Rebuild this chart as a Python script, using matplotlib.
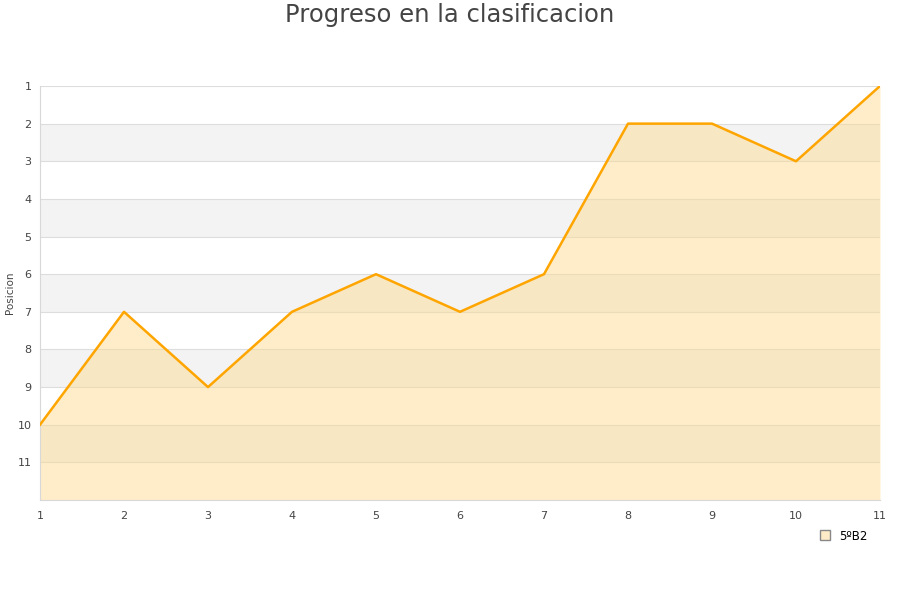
import matplotlib
matplotlib.use("Agg")
import matplotlib.pyplot as plt
from matplotlib.lines import Line2D

jornadas = [1, 2, 3, 4, 5, 6, 7, 8, 9, 10, 11]
posiciones = [10, 7, 9, 7, 6, 7, 6, 2, 2, 3, 1]
equipo = "5ºB2"
titulo = "Progreso en la clasificacion"
eje_y = "Posicion"

fig = plt.figure(figsize=(9, 6), dpi=100)
ax = fig.add_axes([40 / 900, 1 - 500 / 600, 840 / 900, 414 / 600])

# franjas alternas de fondo
for y0 in range(2, 12, 2):
    ax.axhspan(y0, y0 + 1, color="#f3f3f3", zorder=0, lw=0)
for y in range(1, 13):
    ax.axhline(y, color="#dddddd", lw=0.8, zorder=1)

ax.fill_between(jornadas, posiciones, 12, color="#ffd98a", alpha=0.45, lw=0, zorder=2)
ax.plot(jornadas, posiciones, color="#ffa500", lw=1.8, zorder=3)

ax.set_xlim(1, 11)
ax.set_ylim(12, 1)
ax.set_yticks(range(1, 12))
ax.set_xticks(jornadas)
ax.tick_params(length=0, labelsize=8, colors="#444444", pad=8)
ax.tick_params(axis="y", pad=6)
for s in ["top", "right"]:
    ax.spines[s].set_visible(False)
for s in ["left", "bottom"]:
    ax.spines[s].set_color("#d8d8d8")

fig.text(10 / 900, 1 - 293 / 600, eje_y, rotation=90, fontsize=7.5, color="#444444",
         ha="center", va="center")

fig.suptitle(titulo, fontsize=17.5, color="#444444", y=0.995, va="top")

handle = Line2D([], [], marker="s", ls="", markersize=7,
                markerfacecolor="#ffebc8", markeredgecolor="#888888")
fig.legend([handle], [equipo], loc="center", bbox_to_anchor=(840 / 900, 1 - 536 / 600),
           frameon=False, fontsize=8.5, handletextpad=0.2, borderaxespad=0)

fig.savefig("out.png", dpi=100)
